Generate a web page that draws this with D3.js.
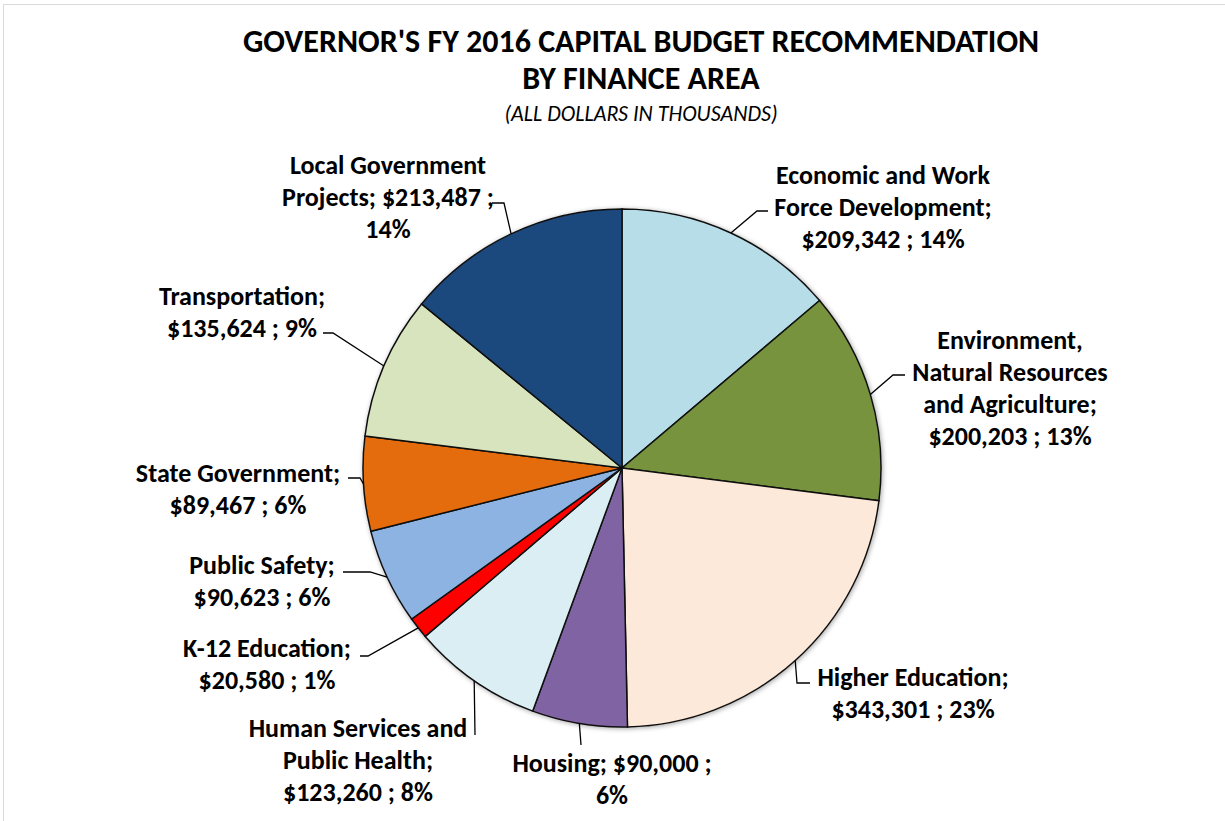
<!DOCTYPE html>
<html>
<head>
<meta charset="utf-8">
<script src="https://cdn.jsdelivr.net/npm/d3@7"></script>
<style>
  body { margin: 0; background: #fff; }
  text { font-family: Carlito, Lato, "Open Sans", sans-serif; font-weight: bold; fill: #000; }
</style>
</head>
<body>
<div id="app"></div>
<script>
// chart data
const categories = [
  "Economic and Work Force Development",
  "Environment, Natural Resources and Agriculture",
  "Higher Education",
  "Housing",
  "Human Services and Public Health",
  "K-12 Education",
  "Public Safety",
  "State Government",
  "Transportation",
  "Local Government Projects"
];
const values = [209342, 200203, 343301, 90000, 123260, 20580, 90623, 89467, 135624, 213487];
const percents = ["14%", "13%", "23%", "6%", "8%", "1%", "6%", "6%", "9%", "14%"];
const colors = ["#b7dde8", "#77933c", "#fde9d9", "#8064a2", "#dbeef4", "#ff0000", "#8db3e2", "#e46c0a", "#d7e4bd", "#1f497d"];

// how Excel wrapped each label
const labelLines = [
  ["Economic and Work", "Force Development;", "$209,342 ; 14%"],
  ["Environment,", "Natural Resources", "and Agriculture;", "$200,203 ; 13%"],
  ["Higher Education;", "$343,301 ; 23%"],
  ["Housing; $90,000 ;", "6%"],
  ["Human Services and", "Public Health;", "$123,260 ; 8%"],
  ["K-12 Education;", "$20,580 ; 1%"],
  ["Public Safety;", "$90,623 ; 6%"],
  ["State Government;", "$89,467 ; 6%"],
  ["Transportation;", "$135,624 ; 9%"],
  ["Local Government", "Projects; $213,487 ;", "14%"]
];

// label layout: text centre x, first line y, leader elbow and end
const labelPos = [
  { x: 883, y: 175, elbow: [757, 211], end: [768, 211] },
  { x: 1010, y: 340, elbow: [893, 375], end: [905, 375] },
  { x: 913, y: 677, elbow: [797, 683], end: [810, 683] },
  { x: 612, y: 763, elbow: null, end: [581, 745] },
  { x: 358, y: 728, elbow: null, end: [475, 735] },
  { x: 267, y: 648, elbow: [368, 656], end: [360, 656] },
  { x: 262, y: 565, elbow: [370, 572], end: [343, 572] },
  { x: 238, y: 473, elbow: [360, 478], end: [348, 478] },
  { x: 242, y: 296, elbow: [333, 333], end: [323, 333] },
  { x: 388, y: 165, elbow: [504, 203], end: [492, 203] }
];

const width = 1225, height = 821;
const cx = 622, cy = 468, radius = 259;
const lineH = 32;

const data = categories.map((c, i) => ({ name: c, value: values[i], color: colors[i], lines: labelLines[i], pos: labelPos[i] }));

const svg = d3.select("#app")
  .append("svg")
  .attr("width", width)
  .attr("height", height);

// soft shadow under the pie
const defs = svg.append("defs");
const f = defs.append("filter").attr("id", "shadow").attr("x", "-10%").attr("y", "-10%").attr("width", "120%").attr("height", "120%");
f.append("feGaussianBlur").attr("in", "SourceAlpha").attr("stdDeviation", 2.5).attr("result", "b");
f.append("feOffset").attr("in", "b").attr("dx", 1).attr("dy", 1).attr("result", "o");
f.append("feComponentTransfer").attr("in", "o").attr("result", "s")
  .append("feFuncA").attr("type", "linear").attr("slope", 0.35);
const fm = f.append("feMerge");
fm.append("feMergeNode").attr("in", "s");
fm.append("feMergeNode").attr("in", "SourceGraphic");

// light frame
svg.append("rect")
  .attr("x", 3.5).attr("y", 4.5)
  .attr("width", width + 10).attr("height", height + 10)
  .attr("fill", "none")
  .attr("stroke", "#d9d9d9");

// titles
svg.append("text")
  .attr("x", 641).attr("y", 44)
  .attr("text-anchor", "middle").attr("dominant-baseline", "middle")
  .style("font-size", "32px")
  .text("GOVERNOR'S FY 2016 CAPITAL BUDGET RECOMMENDATION");
svg.append("text")
  .attr("x", 641).attr("y", 81)
  .attr("text-anchor", "middle").attr("dominant-baseline", "middle")
  .style("font-size", "32px")
  .text("BY FINANCE AREA");
svg.append("text")
  .attr("x", 641).attr("y", 116)
  .attr("text-anchor", "middle").attr("dominant-baseline", "middle")
  .style("font-size", "22px").style("font-weight", "normal").style("font-style", "italic")
  .text("(ALL DOLLARS IN THOUSANDS)");

const pie = d3.pie().sort(null).value(d => d.value);
const arc = d3.arc().innerRadius(0).outerRadius(radius);
const arcs = pie(data);

const g = svg.append("g")
  .attr("transform", `translate(${cx},${cy})`)
  .attr("filter", "url(#shadow)");

g.selectAll("path")
  .data(arcs)
  .enter()
  .append("path")
  .attr("d", arc)
  .attr("fill", d => d.data.color)
  .attr("stroke", "#111")
  .attr("stroke-width", 1.5);

// leader lines: from the slice's mid angle on the rim to the label
svg.selectAll("polyline.leader")
  .data(arcs)
  .enter()
  .append("polyline")
  .attr("class", "leader")
  .attr("fill", "none")
  .attr("stroke", "#000")
  .attr("stroke-width", 1.3)
  .attr("points", d => {
    const a = (d.startAngle + d.endAngle) / 2;
    const rim = [cx + radius * Math.sin(a), cy - radius * Math.cos(a)];
    const p = d.data.pos;
    const pts = [rim];
    if (p.elbow) pts.push(p.elbow);
    pts.push(p.end);
    return pts.map(q => q.join(",")).join(" ");
  });

// labels
const labels = svg.selectAll("text.label")
  .data(data)
  .enter()
  .append("text")
  .attr("class", "label")
  .attr("text-anchor", "middle")
  .style("font-size", "26px");

labels.selectAll("tspan")
  .data(d => d.lines.map((l, i) => ({ l, i, p: d.pos })))
  .enter()
  .append("tspan")
  .attr("x", d => d.p.x)
  .attr("y", d => d.p.y + d.i * lineH)
  .attr("dy", "0.35em")
  .text(d => d.l);
</script>
</body>
</html>
